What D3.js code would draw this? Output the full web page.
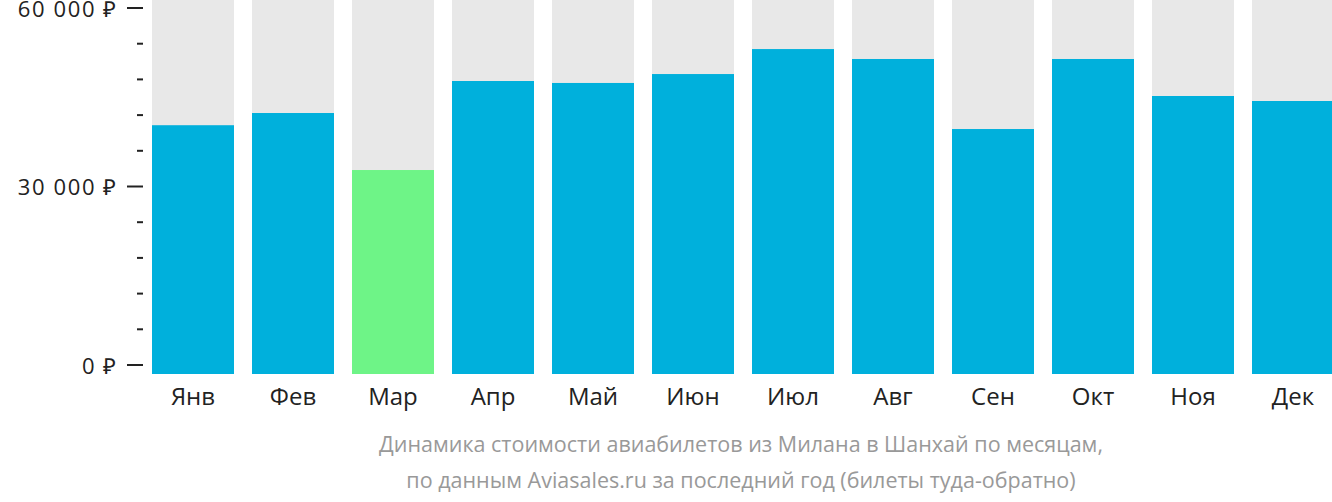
<!DOCTYPE html>
<html><head><meta charset="utf-8">
<script src="https://cdn.jsdelivr.net/npm/d3@7"></script>
<style>body{margin:0;background:#fff;font-family:"Open Sans",sans-serif}</style>
</head><body><div id="chart"></div>
<script>
const months = ["Янв","Фев","Мар","Апр","Май","Июн","Июл","Авг","Сен","Окт","Ноя","Дек"];
const prices = [40300, 42350, 32770, 47730, 47400, 48900, 53100, 51430, 39660, 51430, 45210, 44370];
const yTicks = [0, 30000, 60000];
const caption = ["Динамика стоимости авиабилетов из Милана в Шанхай по месяцам,",
                 "по данным Aviasales.ru за последний год (билеты туда-обратно)"];

const width = 1332, height = 502;
const svg = d3.select("#chart").append("svg").attr("width", width).attr("height", height);

const x = d3.scaleBand().domain(months).range([152, 1334]).paddingInner(0.18).paddingOuter(0);
const y = d3.scaleLinear().domain([0, 60000]).range([365, 8]);
const minI = prices.indexOf(d3.min(prices));

// grey background columns
svg.append("g").selectAll("rect").data(months).join("rect")
    .attr("x", d => x(d)).attr("width", x.bandwidth())
    .attr("y", 0).attr("height", 374)
    .attr("fill", "#e8e8e8");

svg.append("g").selectAll("rect").data(prices).join("rect")
    .attr("x", (d, i) => x(months[i])).attr("width", x.bandwidth())
    .attr("y", d => y(d)).attr("height", d => 374 - y(d))
    .attr("fill", (d, i) => i === minI ? "#6ef487" : "#00b0dc");

// y axis: minor ticks
const minor = d3.range(0, 60001, 6000);
svg.append("g").selectAll("line").data(minor).join("line")
    .attr("x1", d => yTicks.includes(d) ? 127 : 137).attr("x2", 143)
    .attr("y1", d => y(d)).attr("y2", d => y(d))
    .attr("stroke", "#222").attr("stroke-width", 2);

svg.append("g").selectAll("text").data(yTicks).join("text")
    .attr("x", 118).attr("y", d => y(d) + 1).attr("dy", "0.35em")
    .attr("text-anchor", "end").attr("font-size", 22).attr("letter-spacing", 1.6).attr("fill", "#222")
    .text(d => d3.format(",")(d).replace(/,/g, " ") + " ₽");

svg.append("g").selectAll("text").data(months).join("text")
    .attr("x", d => x(d) + x.bandwidth() / 2).attr("y", 405)
    .attr("text-anchor", "middle").attr("font-size", 24).attr("fill", "#222")
    .text(d => d);

svg.append("g").selectAll("text").data(caption).join("text")
    .attr("x", 741).attr("y", (d, i) => 452 + i * 36)
    .attr("text-anchor", "middle").attr("font-size", 21.5).attr("fill", "#999")
    .text(d => d);
</script></body></html>
